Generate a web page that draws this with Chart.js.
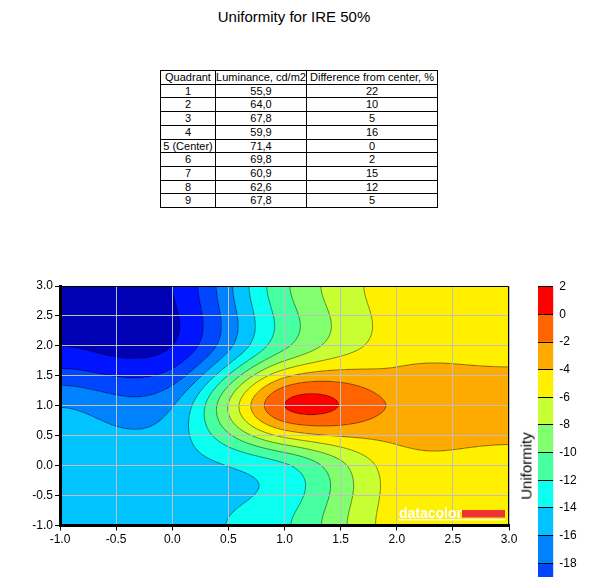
<!DOCTYPE html>
<html>
<head>
<meta charset="utf-8">
<script src="https://cdn.jsdelivr.net/npm/chart.js@4.4.1/dist/chart.umd.min.js"></script>
<style>
  html, body { margin: 0; padding: 0; background: #fff; overflow: hidden; }
  body { width: 594px; height: 577px; position: relative; font-family: "Liberation Sans", Arial, sans-serif; }
  #title { position: absolute; left: 0; top: 8px; width: 588px; text-align: center; font-size: 15px; line-height: 17px; color: #000; }
  #tbl { position: absolute; left: 160px; top: 70px; width: 277px; border-collapse: collapse; table-layout: fixed; font-size: 11px; color: #000; }
  #tbl td { border: 1px solid #000; padding: 0; height: 12.7px; line-height: 12.7px; text-align: center; white-space: nowrap; overflow: hidden; }
  #plot { position: absolute; left: 0; top: 0; }
  #bar { position: absolute; left: 500px; top: 0; }
  #barTitle { position: absolute; left: 526px; top: 466px; font-size: 15px; line-height: 15px; white-space: nowrap; color: #000;
              transform: translate(-50%, -50%) rotate(-90deg); }
</style>
</head>
<body>
<div id="title">Uniformity for IRE 50%</div>
<table id="tbl">
  <colgroup><col style="width:55px"><col style="width:91px"><col style="width:131px"></colgroup>
  <tbody id="tblBody"></tbody>
</table>
<canvas id="plot" width="594" height="577"></canvas>
<canvas id="bar" width="94" height="640"></canvas>
<div id="barTitle">Uniformity</div>

<script>
// table of the nine measured quadrants
const quadrants = ['1', '2', '3', '4', '5 (Center)', '6', '7', '8', '9'];
const luminance = ['55,9', '64,0', '67,8', '59,9', '71,4', '69,8', '60,9', '62,6', '67,8'];
const difference = [22, 10, 5, 16, 0, 2, 15, 12, 5];

// plotted uniformity per quadrant, row by row from the top
const uniformity = [-22.0, -10.4, -5.0, -16.1, 0.0, -2.2, -14.7, -12.3, -5.0];
const nodeX = [0, 1, 2];
const nodeY = [2, 1, 0];

const xTicks = [-1.0, -0.5, 0.0, 0.5, 1.0, 1.5, 2.0, 2.5, 3.0];
const yTicks = [-1.0, -0.5, 0.0, 0.5, 1.0, 1.5, 2.0, 2.5, 3.0];

// contour levels and the colour of each band (first one is below the lowest level)
const levels = [-22, -20, -18, -16, -14, -12, -10, -8, -6, -4, -2, 0, 2];
const bandColors = ['#0000B4', '#0014FF', '#0046FF', '#0082FF', '#00C3FF', '#0AFFF0', '#46FFA0',
                    '#82FF6E', '#C8FF32', '#FFF000', '#FFAA00', '#FF6400', '#FF0000'];
const barTicks = [2, 0, -2, -4, -6, -8, -10, -12, -14, -16, -18, -20, -22];

const FONT = '"Liberation Sans", Arial, sans-serif';

// fill the table
const body = document.getElementById('tblBody');
const head = document.createElement('tr');
['Quadrant', 'Luminance, cd/m2', 'Difference from center, %'].forEach(t => {
    const td = document.createElement('td');
    td.textContent = t;
    head.appendChild(td);
});
body.appendChild(head);
quadrants.forEach((q, i) => {
    const tr = document.createElement('tr');
    [q, luminance[i], difference[i]].forEach(t => {
        const td = document.createElement('td');
        td.textContent = t;
        tr.appendChild(td);
    });
    body.appendChild(tr);
});

// bicubic (Catmull-Rom) surface through the 3x3 measurements, edges clamped
function cubicWeight(d) {
    const a = -0.5, t = Math.abs(d);
    if (t <= 1) return (a + 2) * t * t * t - (a + 3) * t * t + 1;
    if (t < 2) return a * t * t * t - 5 * a * t * t + 8 * a * t - 4 * a;
    return 0;
}
function nodeValue(i, j) {
    i = Math.max(0, Math.min(nodeX.length - 1, i));
    j = Math.max(0, Math.min(nodeY.length - 1, j));
    return uniformity[j * nodeX.length + i];
}
function fieldAt(x, y) {
    const u = (x - nodeX[0]) / (nodeX[1] - nodeX[0]);
    const w = (y - nodeY[0]) / (nodeY[1] - nodeY[0]);
    const i0 = Math.floor(u), j0 = Math.floor(w);
    let s = 0;
    for (let m = -1; m <= 2; m++) {
        const wy = cubicWeight(w - (j0 + m));
        if (!wy) continue;
        for (let n = -1; n <= 2; n++) {
            s += cubicWeight(u - (i0 + n)) * wy * nodeValue(i0 + n, j0 + m);
        }
    }
    return s;
}
function bandOf(v) {
    let k = 0;
    while (k < levels.length - 1 && v >= levels[k]) k++;
    return k;
}
function hexToRgb(h) {
    return [parseInt(h.slice(1, 3), 16), parseInt(h.slice(3, 5), 16), parseInt(h.slice(5, 7), 16)];
}
const bandRgb = bandColors.map(hexToRgb);

// filled contours + contour lines, drawn under the grid
const contourPlugin = {
    id: 'contour',
    beforeDraw(chart) {
        const { ctx, chartArea: area, scales: { x: xs, y: ys } } = chart;
        const w = Math.round(area.right - area.left), h = Math.round(area.bottom - area.top);
        const off = document.createElement('canvas');
        off.width = w;
        off.height = h;
        const octx = off.getContext('2d');
        const img = octx.createImageData(w, h);
        for (let py = 0; py < h; py++) {
            const yv = ys.getValueForPixel(area.top + py + 0.5);
            for (let px = 0; px < w; px++) {
                const xv = xs.getValueForPixel(area.left + px + 0.5);
                const c = bandRgb[bandOf(fieldAt(xv, yv))];
                const o = (py * w + px) * 4;
                img.data[o] = c[0];
                img.data[o + 1] = c[1];
                img.data[o + 2] = c[2];
                img.data[o + 3] = 255;
            }
        }
        octx.putImageData(img, 0, 0);
        ctx.save();
        ctx.drawImage(off, area.left, area.top, w, h);

        // marching squares on a fine grid in data units
        const n = 200;
        const x0 = xs.min, x1 = xs.max, y0 = ys.min, y1 = ys.max;
        const dx = (x1 - x0) / n, dy = (y1 - y0) / n;
        const vals = new Float64Array((n + 1) * (n + 1));
        for (let j = 0; j <= n; j++) {
            for (let i = 0; i <= n; i++) vals[j * (n + 1) + i] = fieldAt(x0 + i * dx, y0 + j * dy);
        }
        ctx.beginPath();
        ctx.rect(area.left, area.top, area.right - area.left, area.bottom - area.top);
        ctx.clip();
        ctx.strokeStyle = 'rgba(0,0,0,0.45)';
        ctx.lineWidth = 1;
        ctx.beginPath();
        levels.slice(0, -1).forEach(L => {
            for (let j = 0; j < n; j++) {
                for (let i = 0; i < n; i++) {
                    const c = [[i, j], [i + 1, j], [i + 1, j + 1], [i, j + 1]];
                    const pts = [];
                    for (let e = 0; e < 4; e++) {
                        const p = c[e], q = c[(e + 1) % 4];
                        const va = vals[p[1] * (n + 1) + p[0]], vb = vals[q[1] * (n + 1) + q[0]];
                        if ((va < L) !== (vb < L)) {
                            const t = (L - va) / (vb - va);
                            pts.push([x0 + (p[0] + t * (q[0] - p[0])) * dx, y0 + (p[1] + t * (q[1] - p[1])) * dy]);
                        }
                    }
                    for (let k = 0; k + 1 < pts.length; k += 2) {
                        ctx.moveTo(xs.getPixelForValue(pts[k][0]), ys.getPixelForValue(pts[k][1]));
                        ctx.lineTo(xs.getPixelForValue(pts[k + 1][0]), ys.getPixelForValue(pts[k + 1][1]));
                    }
                }
            }
        });
        ctx.stroke();
        ctx.restore();
    },
    afterDraw(chart) {
        const { ctx, chartArea: area } = chart;
        ctx.save();
        // thin frame on top and right
        ctx.strokeStyle = '#000';
        ctx.lineWidth = 1;
        ctx.beginPath();
        ctx.moveTo(area.left, area.top + 0.5);
        ctx.lineTo(area.right - 0.5, area.top + 0.5);
        ctx.lineTo(area.right - 0.5, area.bottom);
        ctx.stroke();
        // watermark
        ctx.fillStyle = '#fff';
        ctx.font = 'bold 14px ' + FONT;
        ctx.textBaseline = 'alphabetic';
        ctx.fillText('datacolor', area.right - 110, area.bottom - 8);
        ctx.fillRect(area.right - 110, area.bottom - 6.5, 106, 1.3);
        ctx.fillStyle = '#EE3333';
        ctx.fillRect(area.right - 47, area.bottom - 15.5, 43, 7.5);
        ctx.restore();
    }
};

const axisCommon = {
    type: 'linear',
    min: -1,
    max: 3,
    grid: { color: '#C0C0C0', lineWidth: 1, tickColor: '#000', tickLength: 5 },
    border: { display: true, color: '#000', width: 3 },
    ticks: { color: '#000', font: { family: FONT, size: 12 }, padding: 2, autoSkip: false, maxRotation: 0,
             callback: v => Number(v).toFixed(1) }
};

new Chart(document.getElementById('plot'), {
    type: 'scatter',
    data: {
        datasets: [{
            data: uniformity.map((v, k) => ({ x: nodeX[k % 3], y: nodeY[Math.floor(k / 3)] })),
            pointRadius: 0
        }]
    },
    options: {
        responsive: false,
        animation: false,
        layout: { padding: { left: 0, right: 85, top: 286, bottom: 31.5 } },
        plugins: { legend: { display: false }, tooltip: { enabled: false } },
        scales: {
            x: Object.assign({}, axisCommon, {
                afterBuildTicks: s => { s.ticks = xTicks.map(v => ({ value: v })); },
                afterFit: s => { s.height = 20; }
            }),
            y: Object.assign({}, axisCommon, {
                afterBuildTicks: s => { s.ticks = yTicks.map(v => ({ value: v })); },
                afterFit: s => { s.width = 60; }
            })
        }
    },
    plugins: [contourPlugin]
});

// colour bar
new Chart(document.getElementById('bar'), {
    type: 'bar',
    data: {
        labels: [''],
        datasets: levels.slice(1).map((hi, k) => ({
            data: [[levels[k], hi]],
            backgroundColor: bandColors[k + 1],
            borderWidth: 0,
            barPercentage: 1,
            categoryPercentage: 1
        }))
    },
    options: {
        responsive: false,
        animation: false,
        layout: { padding: { left: 38, right: 0, top: 286.7, bottom: 21.4 } },
        plugins: { legend: { display: false }, tooltip: { enabled: false } },
        scales: {
            x: { display: false, stacked: true },
            y: {
                position: 'right',
                min: levels[0],
                max: levels[levels.length - 1],
                afterBuildTicks: s => { s.ticks = barTicks.map(v => ({ value: v })); },
                afterFit: s => { s.width = 40.7; },
                grid: { color: '#000', lineWidth: 1, drawTicks: false, z: 1 },
                border: { display: false },
                ticks: { color: '#000', font: { family: FONT, size: 12 }, padding: 6 }
            }
        }
    }
});
</script>
</body>
</html>
